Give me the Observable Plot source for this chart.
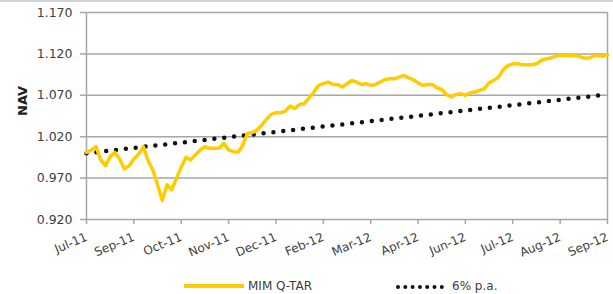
<!DOCTYPE html>
<html><head><meta charset="utf-8">
<script src="https://cdn.jsdelivr.net/npm/d3@7"></script>
<script src="https://cdn.jsdelivr.net/npm/@observablehq/plot@0.6"></script>
<style>
body{margin:0;background:#fff;font-family:"DejaVu Sans",sans-serif;}
#wrap{width:613px;height:294px;position:relative;border-top:2px solid #d4d4d4;box-sizing:border-box;overflow:hidden}
#legend{position:absolute;left:0;top:270px;width:613px;height:24px;font-size:12px;color:#404040}
#legend .item{position:absolute;top:6px;display:flex;align-items:center;height:16px}
</style></head><body><div id="wrap"><div id="chart"></div><div id="legend"></div></div>
<script>
const tickLabels = ["Jul-11","Sep-11","Oct-11","Nov-11","Dec-11","Feb-12","Mar-12","Apr-12","Jun-12","Jul-12","Aug-12","Sep-12"];
const pointsPerTick = 10;
const navValues = [
1.001,1.004,1.008,0.992,0.985,0.996,1.001,0.993,0.981,0.985,
0.993,0.999,1.008,0.991,0.980,0.962,0.943,0.962,0.956,0.970,
0.983,0.995,0.992,0.998,1.004,1.008,1.006,1.006,1.006,1.012,
1.004,1.002,1.001,1.010,1.024,1.025,1.028,1.034,1.041,1.047,
1.049,1.049,1.051,1.057,1.054,1.059,1.060,1.067,1.074,1.082,
1.084,1.086,1.083,1.083,1.080,1.084,1.088,1.086,1.083,1.084,
1.082,1.083,1.086,1.089,1.090,1.090,1.092,1.094,1.091,1.089,
1.085,1.082,1.083,1.083,1.079,1.077,1.071,1.068,1.071,1.072,
1.070,1.073,1.074,1.076,1.078,1.085,1.088,1.092,1.101,1.106,
1.108,1.108,1.107,1.107,1.107,1.108,1.112,1.114,1.115,1.117,
1.118,1.118,1.118,1.118,1.117,1.115,1.115,1.117,1.118,1.117,
1.119];
const benchmarkValues = [1.000, 1.071];
const yTicks = [0.920, 0.970, 1.020, 1.070, 1.120, 1.170];
const seriesNames = ["MIM Q-TAR", "6% p.a."];

const last = navValues.length - 1;
const navData = navValues.map((v, i) => ({i, v}));
const benchData = [{i: 0, v: benchmarkValues[0]}, {i: last, v: benchmarkValues[1]}];
const xTicks = tickLabels.map((_, k) => k * pointsPerTick);

const yellow = "#ffcc00";
const grid = "#a6a6a6";

const chart = Plot.plot({
  width: 613, height: 268,
  marginTop: 10, marginLeft: 86, marginRight: 6, marginBottom: 51,
  style: {fontFamily: "DejaVu Sans", fontSize: "12px", background: "#fff"},
  x: {domain: [0, last]},
  y: {domain: [0.92, 1.17]},
  marks: [
    Plot.ruleY(yTicks, {stroke: grid, strokeWidth: 1.5}),
    Plot.ruleX([0, last], {stroke: grid, strokeWidth: 1.5}),
    Plot.axisY({ticks: yTicks, tickFormat: d3.format(".3f"), tickSize: 6, tickPadding: 8, stroke: grid, strokeWidth: 1.5, fill: "#404040", fontSize: 12.5, label: null}),
    Plot.axisX({ticks: xTicks, tickFormat: d => tickLabels[d / pointsPerTick], tickSize: 5, tickPadding: 12, tickRotate: -23, stroke: grid, strokeWidth: 1.5, fill: "#404040", label: null}),
    Plot.text(["NAV"], {frameAnchor: "left", rotate: -90, dx: -64, fontWeight: "bold", fontSize: 13, fill: "#202020"}),
    Plot.line(benchData, {x: "i", y: "v", stroke: "#111", strokeWidth: 4.5, strokeDasharray: "0 9.9", strokeLinecap: "round"}),
    Plot.line(navData, {x: "i", y: "v", stroke: yellow, strokeWidth: 3.5, strokeLinejoin: "round"})
  ]
});
document.getElementById("chart").appendChild(chart);

const legend = document.getElementById("legend");
legend.innerHTML =
  `<div class="item" style="left:183px"><svg width="62" height="16"><line x1="1" x2="61" y1="8" y2="8" stroke="${yellow}" stroke-width="4"/></svg><span style="margin-left:3px">${seriesNames[0]}</span></div>` +
  `<div class="item" style="left:395px"><svg width="56" height="16"><line x1="3" x2="54" y1="9" y2="9" stroke="#111" stroke-width="4" stroke-dasharray="0 7.3" stroke-linecap="round"/></svg><span style="margin-left:1px">${seriesNames[1]}</span></div>`;
</script></body></html>
